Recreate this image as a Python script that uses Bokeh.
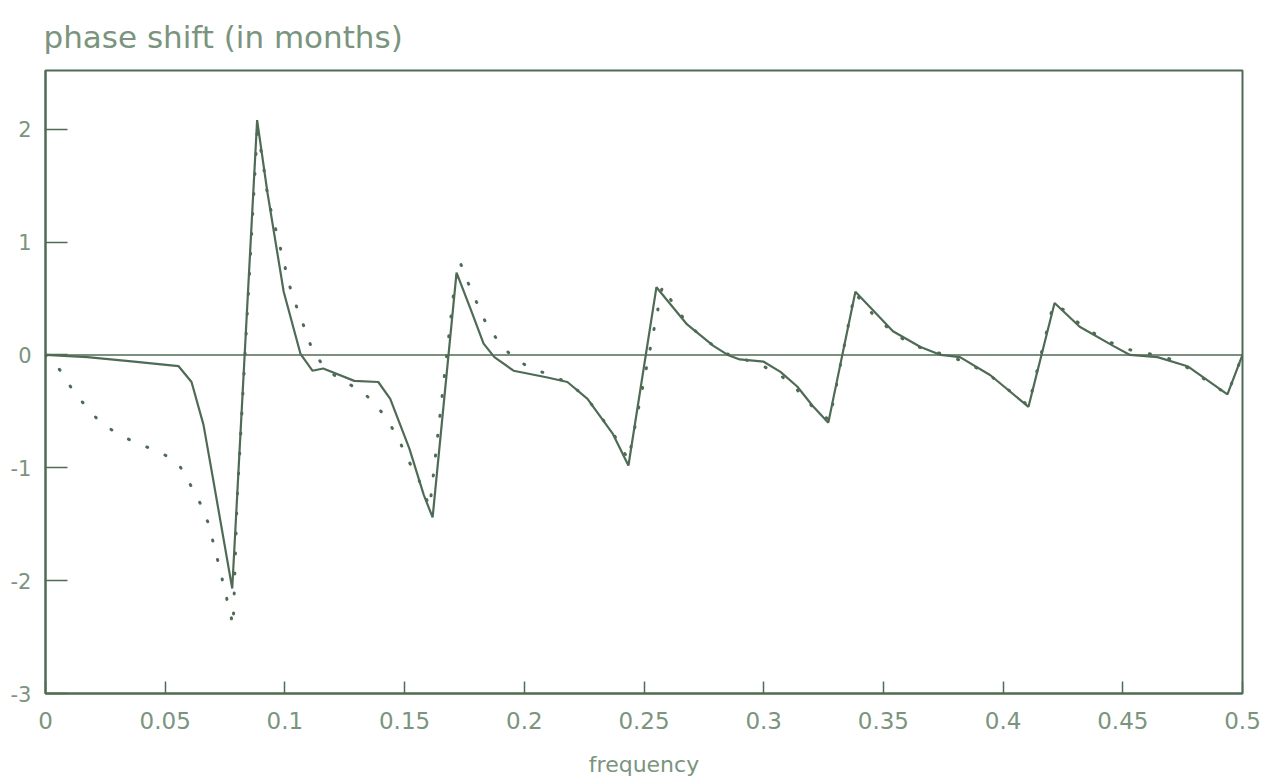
from bokeh.plotting import figure
from bokeh.models import Range1d, FixedTicker, Span
from bokeh.embed import file_html
from bokeh.resources import INLINE

# ---- data ----
freq_solid = [0, 0.0175, 0.037, 0.0556, 0.061, 0.066, 0.070, 0.078, 0.0884, 0.0927,
              0.0995, 0.1065, 0.1115, 0.116, 0.129, 0.139, 0.144, 0.152, 0.158, 0.1617,
              0.1717, 0.1775, 0.183, 0.1875, 0.1955, 0.2097, 0.218, 0.2264, 0.237, 0.2435,
              0.2552, 0.268, 0.279, 0.285, 0.290, 0.300, 0.307, 0.314, 0.3204, 0.327,
              0.3383, 0.354, 0.3655, 0.374, 0.382, 0.3947, 0.4106, 0.4215, 0.432, 0.446,
              0.453, 0.4645, 0.477, 0.4937, 0.5]
shift_solid = [0, -0.02, -0.06, -0.10, -0.24, -0.62, -1.10, -2.07, 2.08, 1.44,
               0.56, 0.01, -0.14, -0.12, -0.23, -0.24, -0.39, -0.83, -1.24, -1.44,
               0.73, 0.41, 0.10, -0.02, -0.14, -0.20, -0.24, -0.39, -0.70, -0.98,
               0.60, 0.27, 0.08, 0.0, -0.04, -0.06, -0.15, -0.28, -0.45, -0.60,
               0.56, 0.21, 0.07, 0.0, -0.02, -0.18, -0.46, 0.46, 0.25, 0.08,
               0.0, -0.02, -0.10, -0.35, 0.0]

freq_dotted = [0, 0.0063, 0.011, 0.017, 0.023, 0.031, 0.039, 0.048, 0.0557, 0.060,
               0.0645, 0.0678, 0.0703, 0.0724, 0.0745, 0.0766, 0.0784, 0.0800, 0.0884, 0.0905,
               0.093, 0.0975, 0.102, 0.105, 0.108, 0.111, 0.116, 0.123, 0.1316, 0.138,
               0.1433, 0.148, 0.1517, 0.156, 0.1605, 0.1705, 0.173, 0.1763, 0.180, 0.1838,
               0.1888, 0.1947, 0.2026, 0.2114, 0.2193, 0.2264, 0.237, 0.2435, 0.2577, 0.2623,
               0.2677, 0.274, 0.283, 0.2907, 0.299, 0.307, 0.314, 0.320, 0.3275, 0.338,
               0.346, 0.354, 0.3617, 0.3789, 0.3876, 0.395, 0.4106, 0.421, 0.427, 0.433,
               0.4415, 0.4495, 0.468, 0.476, 0.4937, 0.5]
shift_dotted = [0, -0.14, -0.30, -0.46, -0.60, -0.71, -0.79, -0.86, -0.97, -1.13,
                -1.31, -1.48, -1.68, -1.86, -2.05, -2.24, -2.40, -1.30, 1.97, 1.76,
                1.38, 1.00, 0.61, 0.42, 0.25, 0.07, -0.10, -0.22, -0.31, -0.44,
                -0.59, -0.77, -0.94, -1.11, -1.35, 0.55, 0.83, 0.65, 0.47, 0.29,
                0.13, -0.01, -0.12, -0.18, -0.26, -0.39, -0.69, -0.93, 0.61, 0.45,
                0.29, 0.16, 0.02, -0.03, -0.09, -0.18, -0.31, -0.45, -0.58, 0.55,
                0.35, 0.20, 0.09, -0.02, -0.10, -0.19, -0.45, 0.45, 0.38, 0.25,
                0.15, 0.06, -0.02, -0.10, -0.35, 0.0]

x_ticks = [0, 0.05, 0.1, 0.15, 0.2, 0.25, 0.3, 0.35, 0.4, 0.45, 0.5]
x_tick_labels = ["0", "0.05", "0.1", "0.15", "0.2", "0.25", "0.3", "0.35", "0.4", "0.45", "0.5"]
y_ticks = [-3, -2, -1, 0, 1, 2]
y_tick_labels = ["-3", "-2", "-1", "0", "1", "2"]

LINE = "#4f6b55"
TEXT = "#7a947e"
FONT = "DejaVu Sans"

p = figure(width=1266, height=784, output_backend="svg", toolbar_location=None,
           x_range=Range1d(0, 0.5), y_range=Range1d(-3, 2.52),
           min_border_left=45, min_border_right=24, min_border_top=70, min_border_bottom=91)

p.title.text = "phase shift (in months)"
p.title.text_font = FONT
p.title.text_font_size = "31px"
p.title.text_font_style = "normal"
p.title.text_color = TEXT
p.title.align = "left"
p.title.offset = -2
p.title.standoff = 31

p.background_fill_color = "white"
p.border_fill_color = "white"
p.outline_line_color = LINE
p.outline_line_width = 2
p.grid.visible = False

p.xaxis.ticker = FixedTicker(ticks=x_ticks)
p.xaxis.major_label_overrides = {t: l for t, l in zip(x_ticks, x_tick_labels)}
p.yaxis.ticker = FixedTicker(ticks=y_ticks)
p.yaxis.major_label_overrides = {t: l for t, l in zip(y_ticks, y_tick_labels)}

for ax in (p.xaxis[0], p.yaxis[0]):
    ax.axis_line_color = LINE
    ax.axis_line_width = 2
    ax.major_tick_line_color = LINE
    ax.major_tick_line_width = 1.5
    ax.major_tick_out = 0
    ax.minor_tick_line_color = None
    ax.major_label_text_font = FONT
    ax.major_label_text_color = TEXT

p.xaxis.major_label_text_font_size = "23px"
p.yaxis.major_label_text_font_size = "21px"
p.xaxis.major_tick_in = 12
p.yaxis.major_tick_in = 22
p.xaxis.major_label_standoff = 18
p.yaxis.major_label_standoff = 14

p.xaxis.axis_label = "frequency"
p.xaxis.axis_label_text_font = FONT
p.xaxis.axis_label_text_font_size = "22px"
p.xaxis.axis_label_text_font_style = "normal"
p.xaxis.axis_label_text_color = TEXT
p.xaxis.axis_label_standoff = 20

p.add_layout(Span(location=0, dimension="width", line_color=LINE, line_width=1.5))

p.line(freq_solid, shift_solid, line_color=LINE, line_width=2.2)
p.line(freq_dotted, shift_dotted, line_color=LINE, line_width=3,
       line_dash="1 19", line_cap="round")

open("out.html", "w").write(file_html(p, INLINE))
